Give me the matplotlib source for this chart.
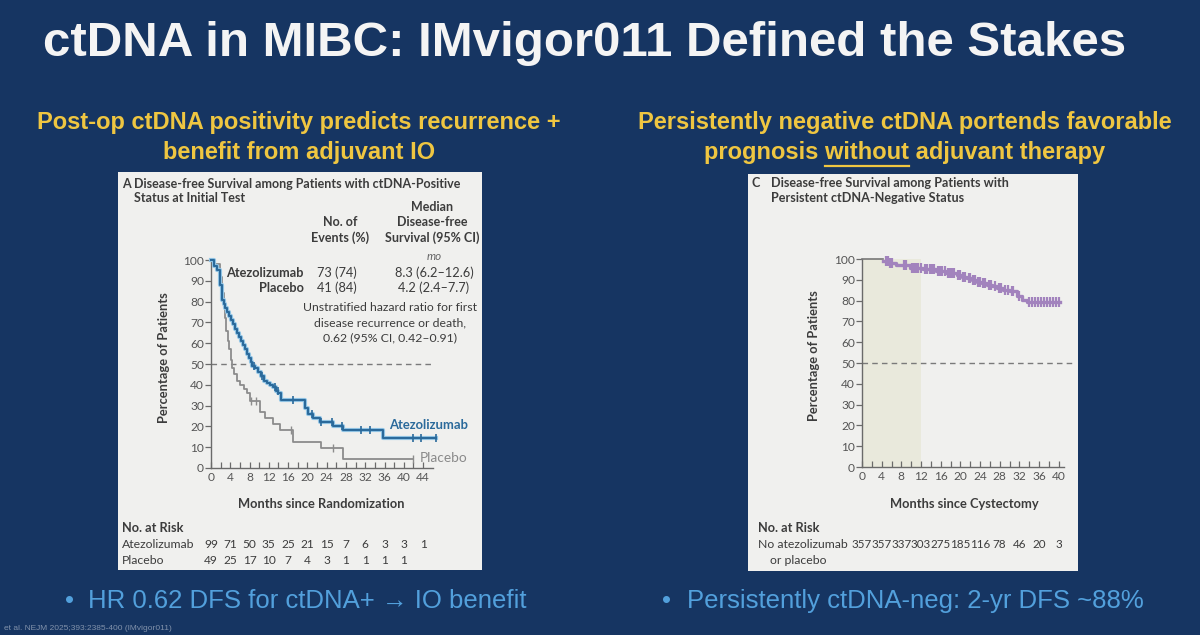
import numpy as np
import matplotlib
matplotlib.use("Agg")
import matplotlib.pyplot as plt
import matplotlib.transforms as mtransforms
from matplotlib.patches import Rectangle
from matplotlib.lines import Line2D

# ---------------- data ----------------
title = "ctDNA in MIBC: IMvigor011 Defined the Stakes"
subtitle_left = ["Post-op ctDNA positivity predicts recurrence +", "benefit from adjuvant IO"]
subtitle_right_1 = "Persistently negative ctDNA portends favorable"
subtitle_right_2 = ["prognosis ", "without", " adjuvant therapy"]
bullet_left = "HR 0.62 DFS for ctDNA+ \u2192 IO benefit"
bullet_right = "Persistently ctDNA-neg: 2-yr DFS ~88%"

# Panel A: ctDNA-positive, Kaplan-Meier steps (months, % disease-free)
atezo_t = [0, 0.6, 1.2, 1.9, 2.3, 2.7, 3.0, 3.4, 3.8, 4.2, 4.6, 5.0, 5.4, 5.8, 6.2, 6.6,
           7.0, 7.4, 7.8, 8.2, 8.6, 9.2, 9.8, 10.4, 11.0, 11.6, 12.2, 12.8, 13.4, 14.0,
           14.6, 19.5, 20.2, 21.2, 22.6, 25.3, 27.4, 35.7]
atezo_s = [100, 97, 95, 88, 81, 79, 77, 75, 73, 71, 69, 67, 65, 63, 61, 59,
           57, 55, 53, 51, 49, 48, 46, 44, 42, 41, 40, 39, 37, 36,
           32.7, 29, 26, 24, 22, 20, 18.4, 14.5]
atezo_end = 46.6
atezo_censor = [9.0, 10.5, 13.3, 13.9, 17.1, 20.9, 22.9, 25.0, 27.1, 31.2, 32.9, 41.9, 43.6]

placebo_t = [0, 0.8, 1.8, 2.3, 2.6, 2.9, 3.2, 3.5, 3.8, 4.1, 4.4, 4.8, 5.3, 6.0, 6.8,
             7.5, 8.1, 10.2, 11.2, 12.9, 14.3, 17.1, 22.9, 27.4]
placebo_s = [100, 98, 92, 84, 78, 72, 66, 61, 57, 52, 48, 45, 42, 40, 38,
             36, 32, 27, 24, 21, 18.4, 12.5, 9.6, 4.5]
placebo_end = 41.9
placebo_censor = [8.4, 9.3, 16.7, 25.3]

left_ticks = [0, 4, 8, 12, 16, 20, 24, 28, 32, 36, 40, 44]
atezo_at_risk = [99, 71, 50, 35, 25, 21, 15, 7, 6, 3, 3, 1]
placebo_at_risk = [49, 25, 17, 10, 7, 4, 3, 1, 1, 1, 1]

# Panel C: persistent ctDNA-negative
neg_flat_end = 4.3
neg_t = [4.3, 5.4, 7.0, 9.8, 12.5, 15.0, 17.0, 19.3, 20.3, 21.3, 22.3, 23.3, 24.4,
         25.4, 26.4, 27.4, 28.7, 30.1, 31.5, 32.5, 33.5]
neg_s = [99, 98, 97, 95.5, 95, 94, 93.5, 92.5, 91.5, 90.8, 90, 89, 88.3,
         87.6, 86.8, 86, 85.2, 84.4, 82, 80.5, 79.4]
neg_end = 40.3
neg_censor = [4.8, 5.2, 5.7, 6.2, 8.5, 9.0, 10.2, 10.6, 11.0, 11.4, 12.0, 12.8, 13.3,
              13.8, 14.2, 14.6, 15.4, 15.9, 16.3, 16.8, 17.5, 17.9, 18.3, 18.7, 19.6,
              20.0, 20.6, 21.0, 21.7, 22.0, 22.6, 23.0, 23.6, 24.0, 24.6, 25.0, 25.8,
              26.2, 27.0, 27.8, 28.2, 29.0, 29.6, 30.5, 30.8, 32.0, 34.0, 34.6, 35.2,
              35.8, 36.4, 37.0, 37.6, 38.2, 38.8, 39.4, 40.0]
right_ticks = [0, 4, 8, 12, 16, 20, 24, 28, 32, 36, 40]
neg_at_risk = [357, 357, 337, 303, 275, 185, 116, 78, 46, 20, 3]
y_ticks = [0, 10, 20, 30, 40, 50, 60, 70, 80, 90, 100]

# ---------------- style ----------------
NAVY = "#163562"
YELLOW = "#efc641"
BULLET = "#52a0dc"
PANEL = "#f0f0ee"
TXT = "#3c3c3c"
TICK = "#555555"
BLUE = "#2b6a9b"
HALO = "#94c6e6"
GRAY = "#8c8c8c"
PURPLE = "#a283bd"
SHADE = "#e9e9dc"
PFONT = ["Lato", "DejaVu Sans"]
SFONT = ["Liberation Sans", "DejaVu Sans"]
FS = 9.0

W, H = 1200, 635
fig = plt.figure(figsize=(12, 6.35), dpi=100)
fig.patch.set_facecolor(NAVY)


def fx(x):
    return x / W


def fy(y):
    return 1 - y / H


def ftext(x, y, s, **kw):
    kw.setdefault("family", PFONT)
    return fig.text(fx(x), fy(y), s, **kw)


# title and subtitles
ftext(585, 44, title, ha="center", va="center", color="#f4f4f4", fontsize=35.5,
      fontweight="bold", family=SFONT)
NARROW = ["Liberation Sans Narrow", "Liberation Sans", "DejaVu Sans"]
ftext(299, 123, subtitle_left[0], ha="center", va="center", color=YELLOW, fontsize=17,
      fontweight="bold", family=NARROW)
ftext(299, 153, subtitle_left[1], ha="center", va="center", color=YELLOW, fontsize=17,
      fontweight="bold", family=NARROW)
ftext(905, 123, subtitle_right_1, ha="center", va="center", color=YELLOW, fontsize=17,
      fontweight="bold", family=NARROW)
full2 = "".join(subtitle_right_2)
t2 = ftext(905, 153, full2, ha="center", va="center", color=YELLOW, fontsize=17,
           fontweight="bold", family=NARROW)

# bullets
ftext(65, 601, "\u2022", ha="left", va="center", color=BULLET, fontsize=18.5, family=SFONT)
ftext(88, 601, bullet_left, ha="left", va="center", color=BULLET, fontsize=18.5, family=SFONT)
ftext(662, 601, "\u2022", ha="left", va="center", color=BULLET, fontsize=18.5, family=SFONT)
ftext(687, 601, bullet_right, ha="left", va="center", color=BULLET, fontsize=18.5, family=SFONT)
ftext(4, 628, "et al. NEJM 2025;393:2385-400 (IMvigor011)", ha="left", va="center",
      color="#c8cfdb", fontsize=6, family=SFONT, alpha=0.6)

# panels
for (x0, y0, x1, y1) in [(118, 172, 482, 570), (748, 174, 1078, 571)]:
    fig.patches.append(Rectangle((fx(x0), fy(y1)), fx(x1 - x0), (y1 - y0) / H,
                                 transform=fig.transFigure, facecolor=PANEL,
                                 edgecolor="none", zorder=-5))


def step_xy(t, s, end):
    return list(t) + [end], list(s) + [s[-1]]


def surv_at(times, t, s):
    idx = np.searchsorted(np.array(t), np.array(times), side="right") - 1
    idx = np.clip(idx, 0, len(s) - 1)
    return np.array(s)[idx]


def style_axes(ax, xmax, xticks):
    ax.set_facecolor("none")
    ax.set_xlim(0, xmax)
    ax.set_ylim(0, 100)
    for sp in ["top", "right"]:
        ax.spines[sp].set_visible(False)
    for sp in ["left", "bottom"]:
        ax.spines[sp].set_color("#6a6a6a")
        ax.spines[sp].set_linewidth(1.0)
    ax.set_yticks(y_ticks)
    ax.set_xticks(xticks)
    ax.set_xticks(np.arange(2, xmax, 4), minor=True)
    ax.tick_params(axis="y", direction="out", length=4, width=0.9, color="#6a6a6a",
                   labelsize=8.6, labelcolor=TICK, pad=1)
    ax.tick_params(axis="x", which="both", direction="in", length=4, width=0.9,
                   color="#6a6a6a", labelsize=8.6, labelcolor=TICK, pad=3)
    for lab in ax.get_xticklabels() + ax.get_yticklabels():
        lab.set_family(PFONT)


# ---------------- Panel A ----------------
axA = fig.add_axes([fx(211), fy(468), (46 * 4.82) / W, 208 / H])
axA.set_zorder(2)
style_axes(axA, 46, left_ticks)
axA.plot([0, 46], [50, 50], ls=(0, (4, 3)), color="#7a7a7a", lw=1.0, zorder=1)
px, py = step_xy(placebo_t, placebo_s, placebo_end)
axA.step(px, py, where="post", color=GRAY, lw=1.3, zorder=2, clip_on=False)
cP = placebo_censor + [placebo_end]
axA.plot(cP, surv_at(cP, placebo_t, placebo_s), ls="none", marker="|", ms=6, mew=1.0,
         color=GRAY, zorder=2, clip_on=False)
ax_, ay_ = step_xy(atezo_t, atezo_s, atezo_end)
axA.step(ax_, ay_, where="post", color=HALO, lw=3.0, zorder=3, clip_on=False)
axA.step(ax_, ay_, where="post", color=BLUE, lw=1.5, zorder=4, clip_on=False)
cA = atezo_censor + [atezo_end]
axA.plot(cA, surv_at(cA, atezo_t, atezo_s), ls="none", marker="|", ms=6, mew=1.2,
         color=BLUE, zorder=4, clip_on=False)

axA.text(37.0, 20.8, "Atezolizumab", color=BLUE, fontsize=9.4, fontweight="bold",
         ha="left", va="center", family=PFONT, clip_on=False)
axA.text(43.4, 4.8, "Placebo", color="#8a8a8a", fontsize=9.8, ha="left",
         va="center", family=PFONT, clip_on=False)

ftext(122, 184, "A", ha="left", va="center", color=TXT, fontsize=FS, fontweight="bold")
ftext(134, 184, "Disease-free Survival among Patients with ctDNA-Positive", ha="left",
      va="center", color=TXT, fontsize=FS, fontweight="bold")
ftext(134, 198, "Status at Initial Test", ha="left", va="center", color=TXT, fontsize=FS,
      fontweight="bold")
ftext(340, 222, "No. of", ha="center", va="center", color=TXT, fontsize=FS, fontweight="bold")
ftext(340, 238, "Events (%)", ha="center", va="center", color=TXT, fontsize=FS, fontweight="bold")
for yy, s in [(207, "Median"), (222, "Disease-free"), (238, "Survival (95% CI)")]:
    ftext(432, yy, s, ha="center", va="center", color=TXT, fontsize=FS, fontweight="bold")
ftext(434, 257, "mo", ha="center", va="center", color="#666", fontsize=8.4, style="italic")
ftext(304, 273, "Atezolizumab", ha="right", va="center", color=TXT, fontsize=9.2, fontweight="bold")
ftext(304, 288, "Placebo", ha="right", va="center", color=TXT, fontsize=9.2, fontweight="bold")
ftext(317, 273, "73 (74)", ha="left", va="center", color=TXT, fontsize=9.2)
ftext(317, 288, "41 (84)", ha="left", va="center", color=TXT, fontsize=9.2)
ftext(434, 273, "8.3 (6.2\u201312.6)", ha="center", va="center", color=TXT, fontsize=9.2)
ftext(434, 288, "4.2 (2.4\u20137.7)", ha="center", va="center", color=TXT, fontsize=9.2)
for yy, s in [(308, "Unstratified hazard ratio for first"),
              (323, "disease recurrence or death,"),
              (338, "0.62 (95% CI, 0.42\u20130.91)")]:
    ftext(390, yy, s, ha="center", va="center", color=TXT, fontsize=8.8)

ftext(164, 358, "Percentage of Patients", ha="center", va="center", rotation=90,
      color=TXT, fontsize=9.3, fontweight="bold")
ftext(321, 504, "Months since Randomization", ha="center", va="center", color=TXT,
      fontsize=9.3, fontweight="bold")
ftext(122, 528, "No. at Risk", ha="left", va="center", color=TXT, fontsize=9.2, fontweight="bold")
ftext(122, 544, "Atezolizumab", ha="left", va="center", color=TXT, fontsize=8.8)
ftext(122, 560, "Placebo", ha="left", va="center", color=TXT, fontsize=8.8)
trA = mtransforms.blended_transform_factory(axA.transData, fig.transFigure)
for tk, v in zip(left_ticks, atezo_at_risk):
    axA.text(tk, fy(544), str(v), transform=trA, ha="center", va="center", color=TXT,
             fontsize=8.6, family=PFONT, clip_on=False)
for tk, v in zip(left_ticks, placebo_at_risk):
    axA.text(tk, fy(560), str(v), transform=trA, ha="center", va="center", color=TXT,
             fontsize=8.6, family=PFONT, clip_on=False)

# ---------------- Panel C ----------------
axC = fig.add_axes([fx(862), fy(467), (41 * 4.917) / W, 208 / H])
axC.set_zorder(2)
style_axes(axC, 41, right_ticks)
axC.axvspan(0, 12, ymin=0, ymax=1, color=SHADE, zorder=0, lw=0)
axC.plot([0, 43.3], [50, 50], ls=(0, (4, 3)), color="#7a7a7a", lw=1.0, zorder=1,
         clip_on=False)
axC.plot([0, neg_flat_end], [100, 100], color="#777777", lw=1.2, zorder=3, clip_on=False)
nx, ny = step_xy(neg_t, neg_s, neg_end)
axC.step(nx, ny, where="post", color=PURPLE, lw=2.4, zorder=3, clip_on=False)
axC.plot(neg_censor, surv_at(neg_censor, neg_t, neg_s), ls="none", marker="|", ms=6.5,
         mew=1.6, color=PURPLE, zorder=3, clip_on=False)

ftext(752, 183, "C", ha="left", va="center", color=TXT, fontsize=FS, fontweight="bold")
ftext(771, 183, "Disease-free Survival among Patients with", ha="left", va="center",
      color=TXT, fontsize=9.1, fontweight="bold")
ftext(771, 198, "Persistent ctDNA-Negative Status", ha="left", va="center", color=TXT,
      fontsize=9.1, fontweight="bold")
ftext(814, 356, "Percentage of Patients", ha="center", va="center", rotation=90,
      color=TXT, fontsize=9.3, fontweight="bold")
ftext(964, 504, "Months since Cystectomy", ha="center", va="center", color=TXT,
      fontsize=9.3, fontweight="bold")
ftext(758, 528, "No. at Risk", ha="left", va="center", color=TXT, fontsize=9.2, fontweight="bold")
ftext(758, 544, "No atezolizumab", ha="left", va="center", color=TXT, fontsize=8.8)
ftext(770, 560, "or placebo", ha="left", va="center", color=TXT, fontsize=8.8)
trC = mtransforms.blended_transform_factory(axC.transData, fig.transFigure)
for tk, v in zip(right_ticks, neg_at_risk):
    axC.text(tk, fy(544), str(v), transform=trC, ha="center", va="center", color=TXT,
             fontsize=8.4, family=PFONT, clip_on=False)

# underline "without"
fig.canvas.draw()
r = fig.canvas.get_renderer()
bb = t2.get_window_extent(r)


def width_of(s):
    tt = fig.text(0, 0, s, fontsize=17, fontweight="bold", family=NARROW)
    w = tt.get_window_extent(r).width
    tt.remove()
    return w


w_pw = width_of(subtitle_right_2[0] + subtitle_right_2[1])
w_w = width_of(subtitle_right_2[1])
x_end = bb.x0 + w_pw
x_start = x_end - w_w
y_ul = bb.y0 - 1
fig.add_artist(Line2D([x_start / W, x_end / W], [y_ul / H, y_ul / H], color=YELLOW,
                      lw=1.6, transform=fig.transFigure))

fig.savefig("out.png", dpi=100, facecolor=NAVY)
